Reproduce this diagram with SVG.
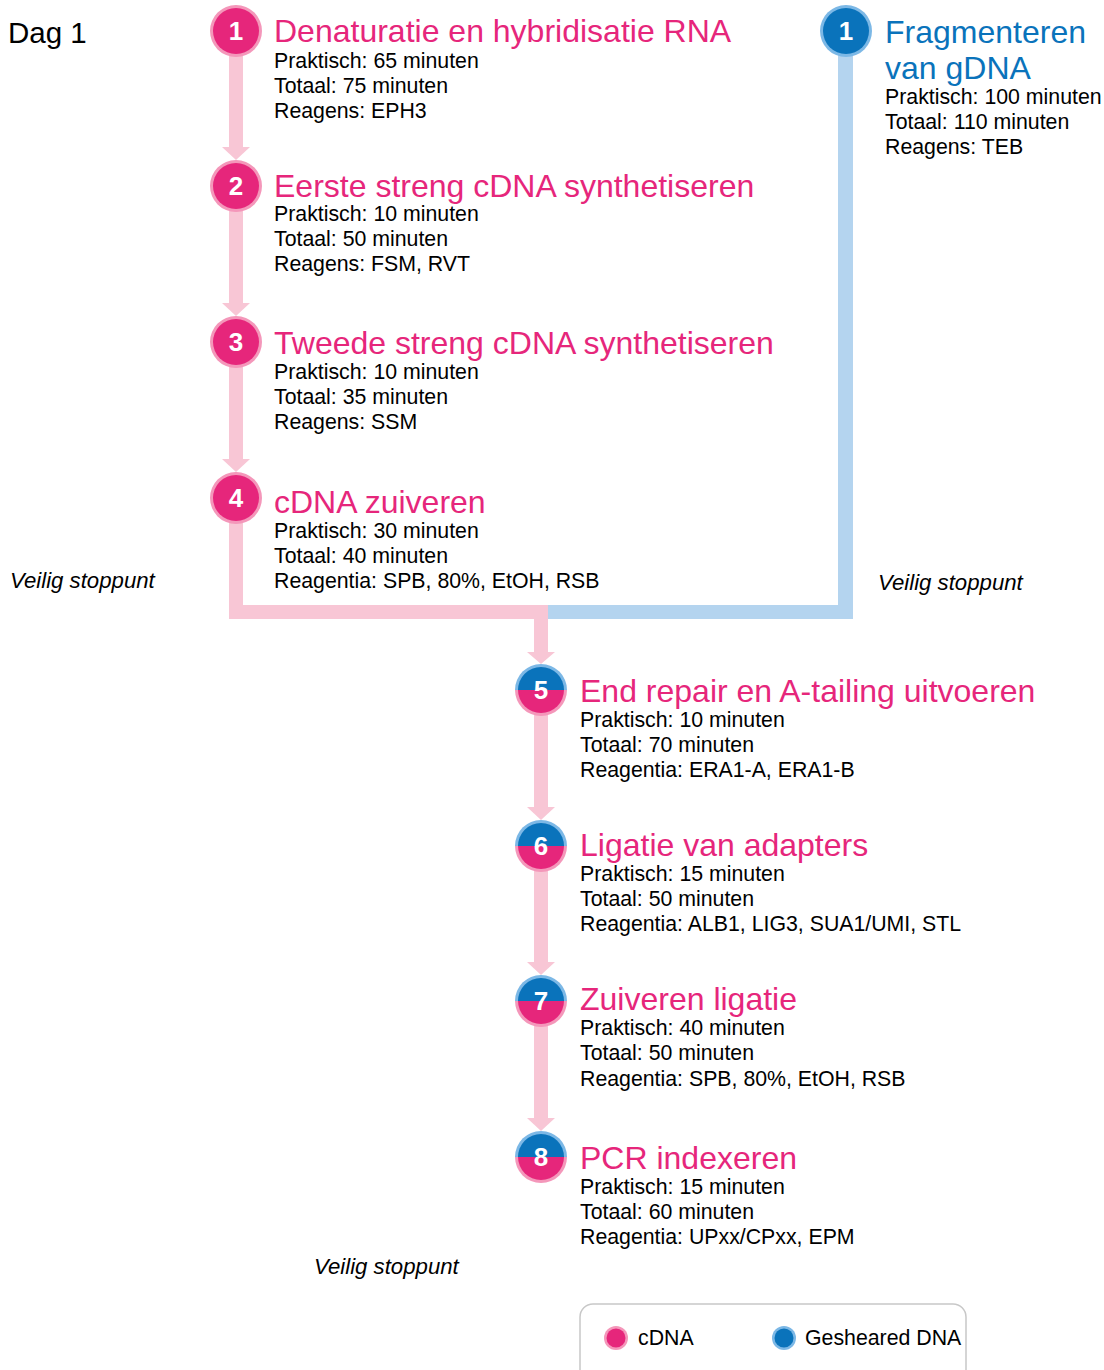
<svg xmlns="http://www.w3.org/2000/svg" width="1104" height="1370" viewBox="0 0 1104 1370">
<style>
.t{font-family:"Liberation Sans",Arial,sans-serif;font-size:32px;fill:#e6267b}
.tb{font-family:"Liberation Sans",Arial,sans-serif;font-size:32px;fill:#0a73bb}
.b{font-family:"Liberation Sans",Arial,sans-serif;font-size:21.3px;fill:#000}
.v{font-family:"Liberation Sans",Arial,sans-serif;font-size:22.2px;font-style:italic;fill:#000}
.n{font-family:"Liberation Sans",Arial,sans-serif;font-size:26px;font-weight:bold;fill:#fff;text-anchor:middle}
.pr{fill:#f497ba}.pi{fill:#e6267b}.br{fill:#7cb8e6}.bi{fill:#0a73bb}
.pk{fill:#f8c6d5}.bl{fill:#b4d4ef}
</style>
<defs>
<g id="pc"><circle r="26" class="pr"/><circle r="23" class="pi"/></g>
<g id="bc"><circle r="26" class="br"/><circle r="23" class="bi"/></g>
<g id="sc"><path d="M-26 0A26 26 0 0 1 26 0Z" class="br"/><path d="M-26 0A26 26 0 0 0 26 0Z" class="pr"/><path d="M-23 0A23 23 0 0 1 23 0Z" class="bi"/><path d="M-23 0A23 23 0 0 0 23 0Z" class="pi"/></g>
</defs>
<rect width="1104" height="1370" fill="#fff"/>
<text x="8" y="43" font-family="Liberation Sans,Arial,sans-serif" font-size="29.5">Dag 1</text>
<g id="connectors">
<rect x="229" y="55" width="14" height="93" class="pk"/><polygon points="222,147 250,147 236,160" class="pk"/>
<rect x="229" y="210" width="14" height="93" class="pk"/><polygon points="222,303 250,303 236,316" class="pk"/>
<rect x="229" y="366" width="14" height="93" class="pk"/><polygon points="222,459 250,459 236,472" class="pk"/>
<rect x="838" y="55" width="15" height="564" class="bl"/>
<rect x="548" y="605" width="305" height="14" class="bl"/>
<rect x="229" y="522" width="14" height="97" class="pk"/>
<rect x="229" y="605" width="319" height="14" class="pk"/>
<rect x="534" y="605" width="14" height="48" class="pk"/><polygon points="527,652 555,652 541,664" class="pk"/>
<rect x="534" y="714" width="14" height="94" class="pk"/><polygon points="527,807 555,807 541,820" class="pk"/>
<rect x="534" y="870" width="14" height="93" class="pk"/><polygon points="527,962 555,962 541,975" class="pk"/>
<rect x="534" y="1025" width="14" height="94" class="pk"/><polygon points="527,1118 555,1118 541,1131" class="pk"/>
</g>
<g id="n1"><use href="#pc" x="236" y="31"/><text class="n" x="236" y="40">1</text>
<text class="t" x="274" y="42">Denaturatie en hybridisatie RNA</text>
<text class="b" x="274" y="68">Praktisch: 65 minuten</text><text class="b" x="274" y="93">Totaal: 75 minuten</text><text class="b" x="274" y="118">Reagens: EPH3</text></g>
<g id="n2"><use href="#pc" x="236" y="186"/><text class="n" x="236" y="195">2</text>
<text class="t" x="274" y="197">Eerste streng cDNA synthetiseren</text>
<text class="b" x="274" y="221">Praktisch: 10 minuten</text><text class="b" x="274" y="246">Totaal: 50 minuten</text><text class="b" x="274" y="271">Reagens: FSM, RVT</text></g>
<g id="n3"><use href="#pc" x="236" y="342"/><text class="n" x="236" y="351">3</text>
<text class="t" x="274" y="354">Tweede streng cDNA synthetiseren</text>
<text class="b" x="274" y="379">Praktisch: 10 minuten</text><text class="b" x="274" y="404">Totaal: 35 minuten</text><text class="b" x="274" y="429">Reagens: SSM</text></g>
<g id="n4"><use href="#pc" x="236" y="498"/><text class="n" x="236" y="507">4</text>
<text class="t" x="274" y="513">cDNA zuiveren</text>
<text class="b" x="274" y="538">Praktisch: 30 minuten</text><text class="b" x="274" y="563">Totaal: 40 minuten</text><text class="b" x="274" y="588">Reagentia: SPB, 80%, EtOH, RSB</text></g>
<g id="g1"><use href="#bc" x="846" y="31"/><text class="n" x="846" y="40">1</text>
<text class="tb" x="885" y="43">Fragmenteren</text><text class="tb" x="885" y="79">van gDNA</text>
<text class="b" x="885" y="104">Praktisch: 100 minuten</text><text class="b" x="885" y="129">Totaal: 110 minuten</text><text class="b" x="885" y="154">Reagens: TEB</text></g>
<g id="n5"><use href="#sc" x="541" y="690"/><text class="n" x="541" y="699">5</text>
<text class="t" x="580" y="702">End repair en A-tailing uitvoeren</text>
<text class="b" x="580" y="727">Praktisch: 10 minuten</text><text class="b" x="580" y="752">Totaal: 70 minuten</text><text class="b" x="580" y="777">Reagentia: ERA1-A, ERA1-B</text></g>
<g id="n6"><use href="#sc" x="541" y="846"/><text class="n" x="541" y="855">6</text>
<text class="t" x="580" y="856">Ligatie van adapters</text>
<text class="b" x="580" y="881">Praktisch: 15 minuten</text><text class="b" x="580" y="906">Totaal: 50 minuten</text><text class="b" x="580" y="931">Reagentia: ALB1, LIG3, SUA1/UMI, STL</text></g>
<g id="n7"><use href="#sc" x="541" y="1001"/><text class="n" x="541" y="1010">7</text>
<text class="t" x="580" y="1010">Zuiveren ligatie</text>
<text class="b" x="580" y="1035">Praktisch: 40 minuten</text><text class="b" x="580" y="1060">Totaal: 50 minuten</text><text class="b" x="580" y="1086">Reagentia: SPB, 80%, EtOH, RSB</text></g>
<g id="n8"><use href="#sc" x="541" y="1157"/><text class="n" x="541" y="1166">8</text>
<text class="t" x="580" y="1169">PCR indexeren</text>
<text class="b" x="580" y="1194">Praktisch: 15 minuten</text><text class="b" x="580" y="1219">Totaal: 60 minuten</text><text class="b" x="580" y="1244">Reagentia: UPxx/CPxx, EPM</text></g>
<text class="v" x="10" y="588">Veilig stoppunt</text>
<text class="v" x="878" y="590">Veilig stoppunt</text>
<text class="v" x="314" y="1274">Veilig stoppunt</text>
<g id="legend">
<rect x="580" y="1304" width="386" height="80" rx="13" fill="#fff" stroke="#c8c8c8" stroke-width="1.5"/>
<circle cx="616" cy="1338" r="12" class="pr"/><circle cx="616" cy="1338" r="9.5" class="pi"/>
<text class="b" x="638" y="1345">cDNA</text>
<circle cx="784" cy="1338" r="12" class="br"/><circle cx="784" cy="1338" r="9.5" class="bi"/>
<text class="b" x="805" y="1345">Gesheared DNA</text>
</g>
</svg>
